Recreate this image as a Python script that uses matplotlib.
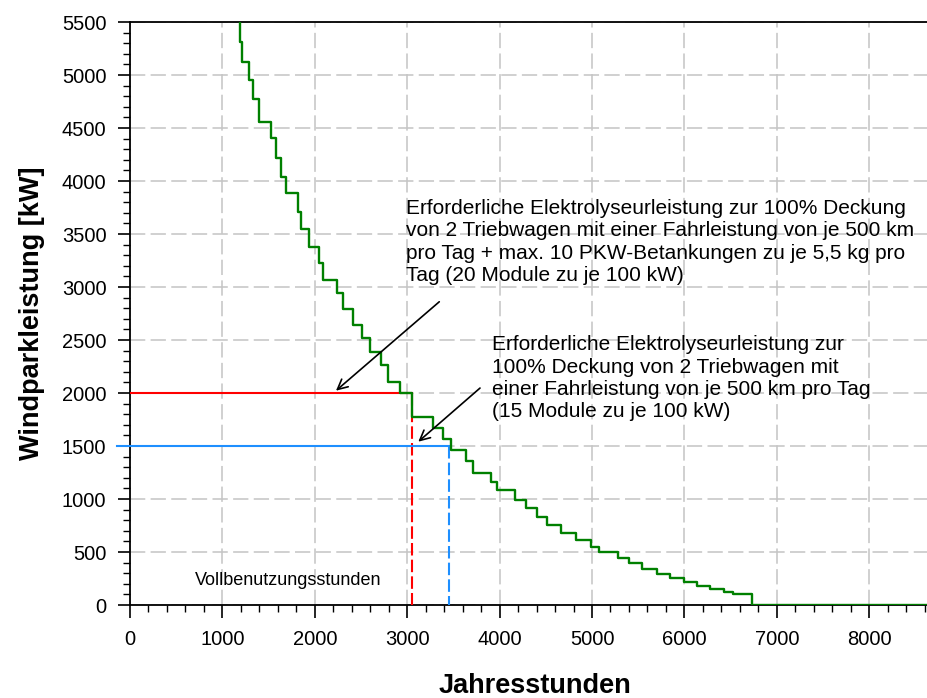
import matplotlib
matplotlib.use("Agg")
import matplotlib.pyplot as plt
from matplotlib.ticker import MultipleLocator

plt.rcParams['font.family'] = ['Liberation Sans', 'DejaVu Sans']

# Jahresdauerlinie der Windparkleistung (Beginn jeder Stufe in h, Leistung in kW)
hours = [1194, 1194, 1216, 1291, 1335, 1400, 1526, 1580, 1634, 1688,
         1814, 1847, 1941, 2049, 2092, 2244, 2308, 2410, 2508, 2597,
         2716, 2795, 2922, 3050, 3282, 3384, 3471, 3636, 3709, 3904,
         3969, 4167, 4286, 4401, 4516, 4661, 4827, 4986, 5072, 5285,
         5404, 5538, 5707, 5844, 5999, 6140, 6277, 6429, 6523, 6735,
         8760]
power = [5500, 5314, 5126, 4953, 4771, 4560, 4403, 4214, 4041, 3884,
         3710, 3544, 3380, 3229, 3066, 2940, 2790, 2642, 2516, 2390,
         2264, 2107, 2003, 1776, 1670, 1563, 1462, 1358, 1242, 1163,
         1085, 991, 912, 833, 755, 676, 613, 550, 497, 440,
         393, 337, 292, 252, 220, 182, 151, 120, 101, 0,
         0]

# Elektrolyseurleistung und zugehoerige Vollbenutzungsstunden
p20 = 2000
h20 = 3050
p15 = 1500
h15 = 3455

text20 = ("Erforderliche Elektrolyseurleistung zur 100% Deckung\n"
          "von 2 Triebwagen mit einer Fahrleistung von je 500 km\n"
          "pro Tag + max. 10 PKW-Betankungen zu je 5,5 kg pro\n"
          "Tag (20 Module zu je 100 kW)")
text15 = ("Erforderliche Elektrolyseurleistung zur\n"
          "100% Deckung von 2 Triebwagen mit\n"
          "einer Fahrleistung von je 500 km pro Tag\n"
          "(15 Module zu je 100 kW)")

fig = plt.figure(figsize=(9.28, 6.98), dpi=100)
ax = fig.add_axes([0.1401, 0.1332, 0.8722, 0.8352])

ax.step(hours, power, where='post', color='#008000', lw=1.7, zorder=4)

ax.plot([0, h20], [p20, p20], color='#ff0000', lw=1.5, zorder=3)
ax.plot([h20, h20], [p20, 0], color='#ff0000', lw=1.5,
        linestyle=(0, (6, 2)), zorder=3)
ax.plot([-145, h15], [p15, p15], color='#1e8fff', lw=1.5, zorder=3,
        clip_on=False)
ax.plot([h15, h15], [p15, 0], color='#1e8fff', lw=1.5,
        linestyle=(0, (6, 2)), zorder=3)

ax.set_xlim(0, 8760)
ax.set_ylim(0, 5500)
ax.xaxis.set_major_locator(MultipleLocator(1000))
ax.xaxis.set_minor_locator(MultipleLocator(200))
ax.yaxis.set_major_locator(MultipleLocator(500))
ax.yaxis.set_minor_locator(MultipleLocator(100))

ax.grid(True, which='major', color='#c4c4c4', lw=1.1,
        linestyle=(0, (10, 3.5)), zorder=0)

ax.tick_params(axis='both', which='major', labelsize=14.5, width=1.2,
               length=9, direction='out', colors='black')
ax.tick_params(axis='both', which='minor', width=1.0, length=5,
               direction='out')
ax.tick_params(axis='x', which='major', pad=9)
ax.tick_params(axis='y', which='major', pad=8)

for side in ['left', 'bottom', 'top', 'right']:
    ax.spines[side].set_linewidth(1.3)
    ax.spines[side].set_color('black')

ax.set_xlabel('Jahresstunden', fontsize=19.5, fontweight='bold', labelpad=17)
ax.set_ylabel('Windparkleistung [kW]', fontsize=19.5, fontweight='bold',
              labelpad=12)

ax.text(2987, 3830, text20, fontsize=15, ha='left', va='top',
        linespacing=1.22, zorder=5)
ax.text(3914, 2545, text15, fontsize=15, ha='left', va='top',
        linespacing=1.22, zorder=5)
ax.text(703, 189, 'Vollbenutzungsstunden', fontsize=13, ha='left',
        va='baseline', zorder=5)

ax.annotate('', xy=(2229, 2022), xytext=(3347, 2861),
            arrowprops=dict(arrowstyle='->', color='black', lw=1.2,
                            mutation_scale=18, shrinkA=0, shrinkB=0),
            zorder=6)
ax.annotate('', xy=(3120, 1541), xytext=(3788, 2047),
            arrowprops=dict(arrowstyle='->', color='black', lw=1.2,
                            mutation_scale=18, shrinkA=0, shrinkB=0),
            zorder=6)

fig.savefig('out.png', dpi=100)
